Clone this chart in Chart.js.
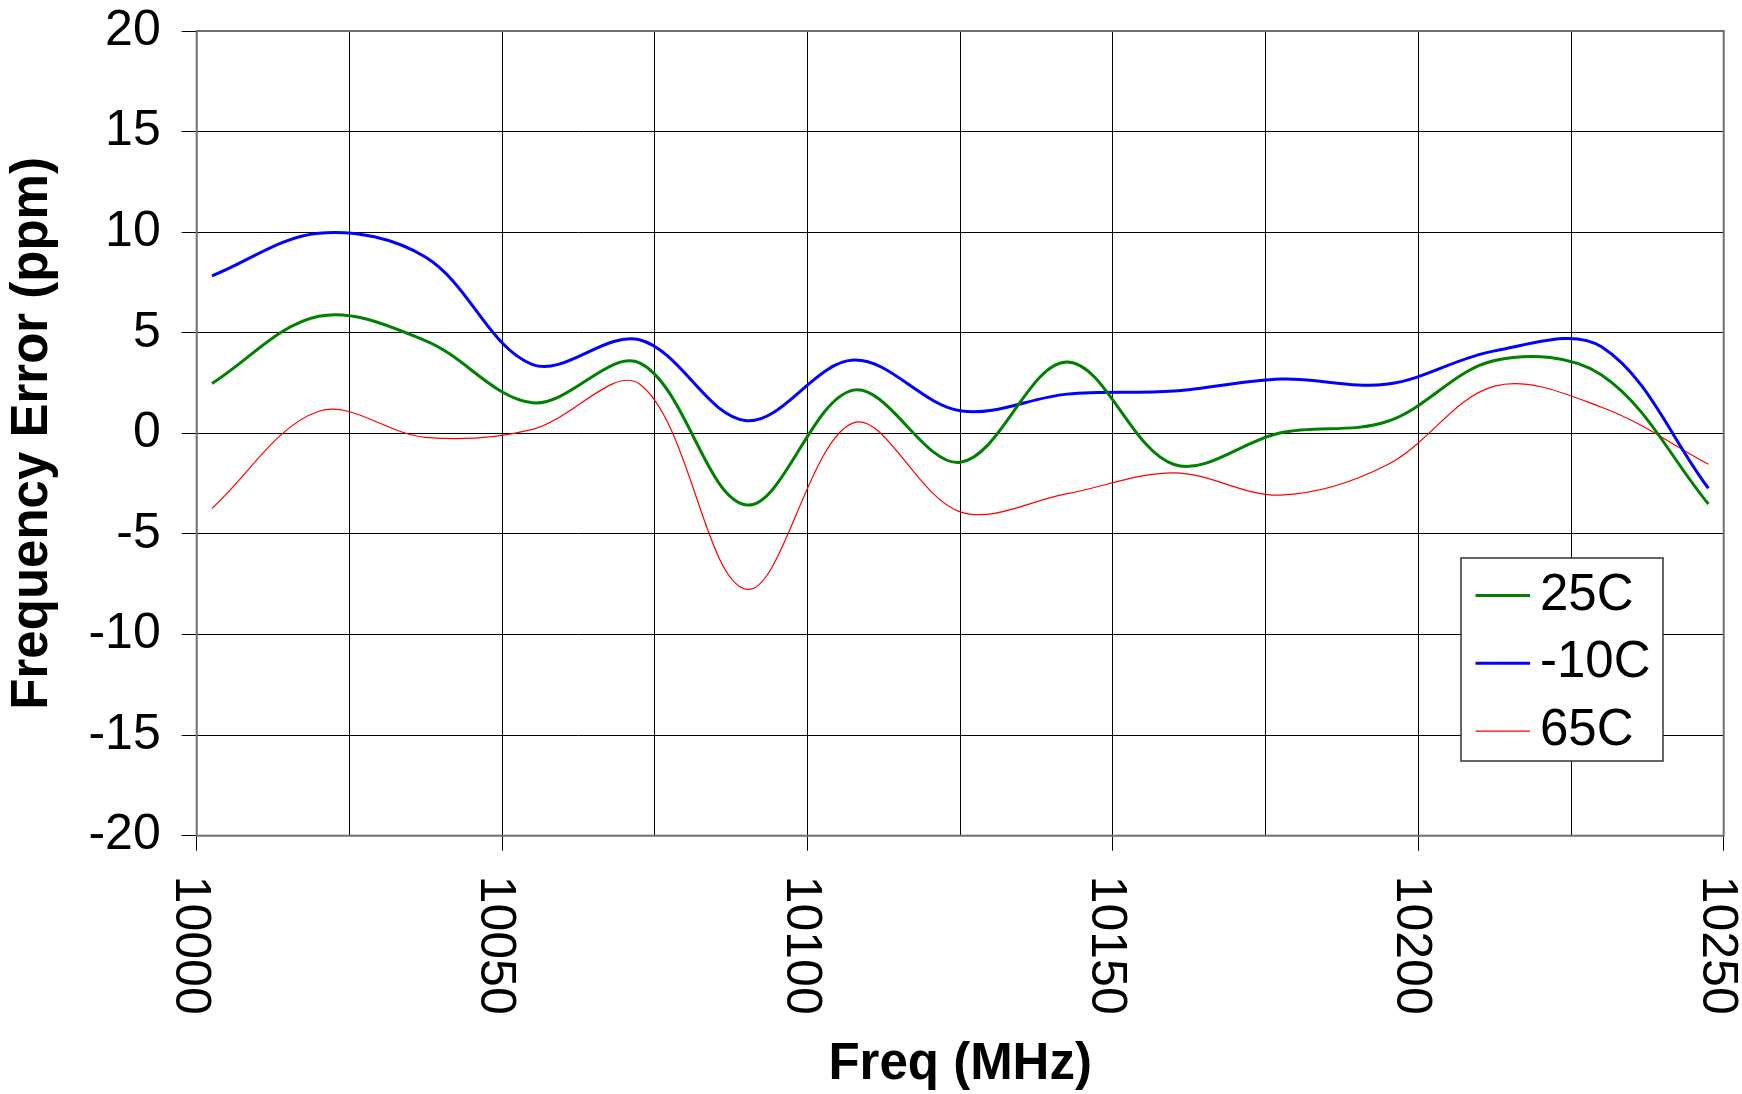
<!DOCTYPE html>
<html>
<head>
<meta charset="utf-8">
<title>Frequency Error vs Freq</title>
<script src="https://cdn.jsdelivr.net/npm/chart.js@4.4.1/dist/chart.umd.min.js"></script>
<style>
  html, body { margin: 0; padding: 0; background: #fff; }
  #chart { display: block; }
</style>
</head>
<body>
<canvas id="chart" width="1742" height="1094"></canvas>
<script>
// ── Data (MHz / ppm)
const freqs   = [10002.5, 10020, 10037.5, 10055, 10072.5, 10090, 10107.5, 10125, 10142.5, 10160, 10177.5, 10195, 10212.5, 10230, 10247.5];
const err25C  = [2.48, 5.82, 4.6, 1.52, 3.5, -3.56, 2.15, -1.44, 3.55, -1.55, 0.03, 0.6, 3.62, 2.9, -3.51];
const errM10C = [7.83, 9.95, 8.75, 3.42, 4.65, 0.63, 3.64, 1.12, 1.95, 2.1, 2.7, 2.45, 4.1, 4.3, -2.73];
const err65C  = [-3.73, 1.1, -0.2, 0.2, 2.45, -7.75, 0.52, -3.9, -3.0, -1.96, -3.07, -1.55, 2.35, 1.3, -1.54];

const seriesNames = ['25C', '-10C', '65C'];
const xLabels = [10000, 10050, 10100, 10150, 10200, 10250];
const yTicks  = [-20, -15, -10, -5, 0, 5, 10, 15, 20];

const FONT = '"Liberation Sans", Arial, sans-serif';
Chart.defaults.font.family = FONT;
Chart.defaults.color = '#000';

const toPoints = vals => vals.map((v, i) => ({ x: freqs[i], y: v }));

// ── Rotated x tick labels (read top to bottom)
const xLabelPlugin = {
  id: 'xLabels',
  afterDraw(chart) {
    const { ctx, scales: { x } } = chart;
    ctx.save();
    ctx.font = '50px ' + FONT;
    ctx.fillStyle = '#000';
    ctx.textBaseline = 'alphabetic';
    xLabels.forEach(v => {
      ctx.save();
      ctx.translate(x.getPixelForValue(v) - 21, x.top + 40);
      ctx.rotate(Math.PI / 2);
      ctx.fillText(String(v), 0, 0);
      ctx.restore();
    });
    ctx.restore();
  }
};

// ── Plot frame
const framePlugin = {
  id: 'frame',
  beforeDatasetsDraw(chart) {
    const { ctx, chartArea: a } = chart;
    ctx.save();
    ctx.strokeStyle = '#6e6e6e';
    ctx.lineWidth = 2;
    ctx.strokeRect(a.left, a.top, a.right - a.left, a.bottom - a.top);
    ctx.restore();
  }
};

// ── Boxed legend inside the plot
const legendPlugin = {
  id: 'boxLegend',
  afterDraw(chart) {
    const { ctx } = chart;
    const box = { x: 1461, y: 558, w: 202, h: 203 };
    ctx.save();
    ctx.fillStyle = '#fff';
    ctx.fillRect(box.x, box.y, box.w, box.h);
    ctx.strokeStyle = '#333';
    ctx.lineWidth = 1.5;
    ctx.strokeRect(box.x, box.y, box.w, box.h);
    ctx.font = '51px ' + FONT;
    ctx.textBaseline = 'middle';
    chart.data.datasets.forEach((ds, i) => {
      const y = box.y + 37.5 + i * 67.8;
      ctx.strokeStyle = ds.borderColor;
      ctx.lineWidth = ds.borderWidth;
      ctx.beginPath();
      ctx.moveTo(box.x + 14.5, y);
      ctx.lineTo(box.x + 69, y);
      ctx.stroke();
      ctx.fillStyle = '#000';
      ctx.fillText(ds.label, box.x + 79, y);
    });
    ctx.restore();
  }
};

new Chart(document.getElementById('chart'), {
  type: 'line',
  data: {
    datasets: [
      { label: seriesNames[0], data: toPoints(err25C),  borderColor: '#008000', borderWidth: 3 },
      { label: seriesNames[1], data: toPoints(errM10C), borderColor: '#0000ff', borderWidth: 3 },
      { label: seriesNames[2], data: toPoints(err65C),  borderColor: '#ff0000', borderWidth: 1.2 }
    ]
  },
  options: {
    responsive: false,
    animation: false,
    devicePixelRatio: 1,
    elements: { point: { radius: 0 }, line: { tension: 0.35, fill: false } },
    layout: { padding: { left: 0, right: 18.3, top: 31, bottom: 0 } },
    plugins: { legend: { display: false }, tooltip: { enabled: false } },
    scales: {
      x: {
        type: 'linear',
        min: 10000,
        max: 10250,
        ticks: { stepSize: 25, display: false },
        grid: {
          color: '#000',
          lineWidth: 1,
          tickLength: 15,
          tickColor: c => (c.tick && c.tick.value % 50 === 0) ? '#000' : 'rgba(0,0,0,0)'
        },
        border: { display: false },
        title: {
          display: true,
          text: 'Freq (MHz)',
          font: { size: 51, weight: 'bold', lineHeight: 1 },
          padding: { top: 0, bottom: 4 }
        },
        afterFit: s => { s.height = 258.3; s.paddingLeft = 0; s.paddingRight = 0; }
      },
      y: {
        min: yTicks[0],
        max: yTicks[yTicks.length - 1],
        afterBuildTicks: s => { s.ticks = yTicks.map(v => ({ value: v })); },
        ticks: { font: { size: 50 }, padding: 21, color: '#000' },
        grid: { color: '#000', lineWidth: 1, tickLength: 15, tickColor: '#000' },
        border: { display: false },
        title: {
          display: true,
          text: 'Frequency Error (ppm)',
          font: { size: 51, weight: 'bold', lineHeight: 1 },
          padding: { top: 7, bottom: 0 }
        },
        // keep the label overhang from pushing the plot down
        afterFit: s => { s.width = 196.7; s.paddingTop = 0; s.paddingBottom = 0; }
      }
    }
  },
  plugins: [framePlugin, xLabelPlugin, legendPlugin]
});
</script>
</body>
</html>
